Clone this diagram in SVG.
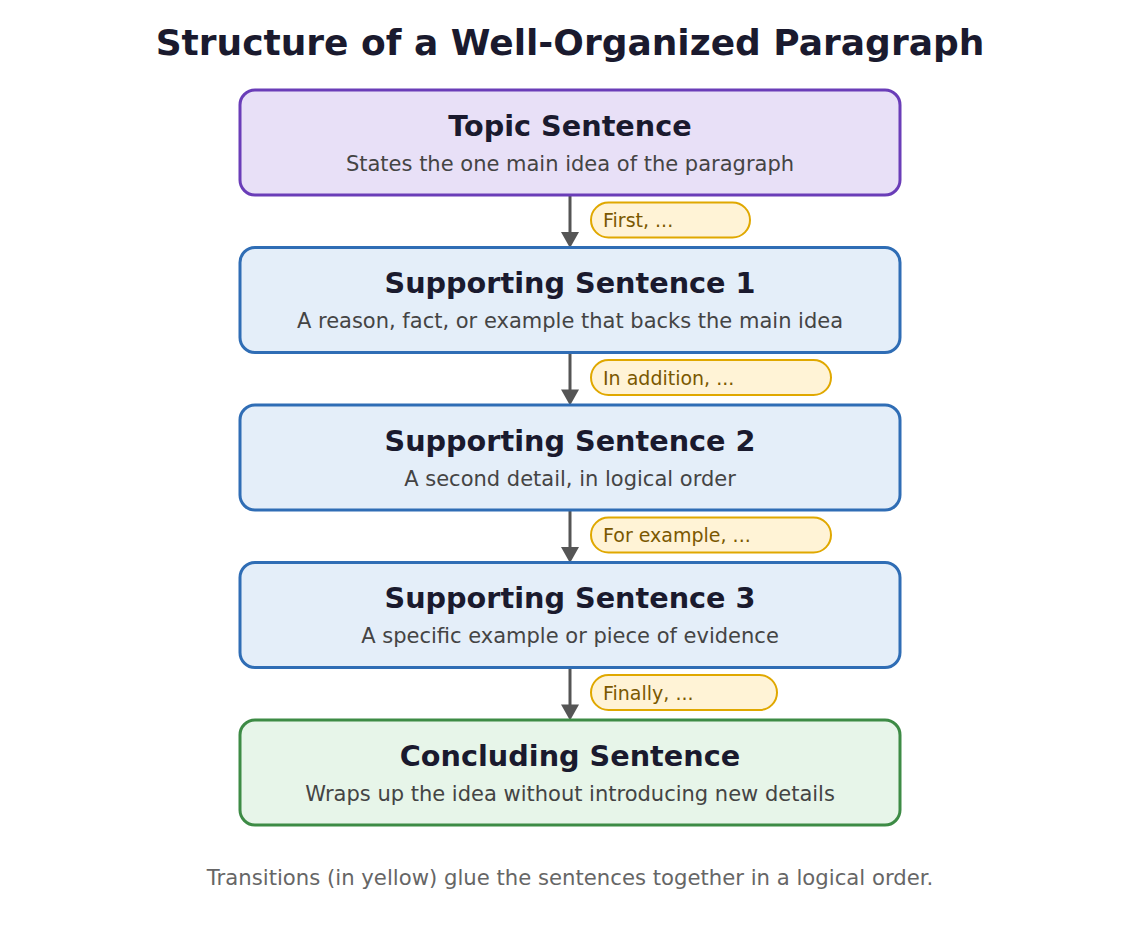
<svg xmlns="http://www.w3.org/2000/svg" width="1140" height="930" viewBox="0 0 1140 930">
<style>
text{font-family:"DejaVu Sans","Liberation Sans",sans-serif}
.title{font-size:36px;font-weight:bold;fill:#1a1a2e;text-anchor:middle}
.head{font-size:28.7px;font-weight:bold;fill:#1a1a2e;text-anchor:middle}
.sub{font-size:21px;fill:#444;text-anchor:middle}
.foot{font-size:21.2px;fill:#666;text-anchor:middle}
.box{stroke-width:3}
.topic{fill:#e8e0f7;stroke:#6a3db8}
.supp{fill:#e4eef9;stroke:#2f6db5}
.conc{fill:#e7f5e9;stroke:#3d8b45}
.pill{fill:#fff3d6;stroke:#e0a800;stroke-width:2}
.ptxt{font-size:19px;fill:#7a5800}
.conn line{stroke:#555;stroke-width:3}
.conn polygon{fill:#555}
</style>
<rect width="1140" height="930" fill="#fff"/>
<text class="title" x="570" y="55">Structure of a Well-Organized Paragraph</text>
<g id="connectors" class="conn">
<line x1="570" y1="195" x2="570" y2="234"/><polygon points="561,232 579,232 570,248"/>
<line x1="570" y1="352.5" x2="570" y2="391.5"/><polygon points="561,389.5 579,389.5 570,405.5"/>
<line x1="570" y1="510" x2="570" y2="549"/><polygon points="561,547 579,547 570,563"/>
<line x1="570" y1="667.5" x2="570" y2="706.5"/><polygon points="561,704.5 579,704.5 570,720.5"/>
</g>
<g id="node-topic">
<rect class="box topic" x="240" y="90" width="660" height="105" rx="15"/>
<text class="head" x="570" y="135.5">Topic Sentence</text>
<text class="sub" x="570" y="170.5">States the one main idea of the paragraph</text>
</g>
<g id="node-support1">
<rect class="box supp" x="240" y="247.5" width="660" height="105" rx="15"/>
<text class="head" x="570" y="293">Supporting Sentence 1</text>
<text class="sub" x="570" y="328">A reason, fact, or example that backs the main idea</text>
</g>
<g id="node-support2">
<rect class="box supp" x="240" y="405" width="660" height="105" rx="15"/>
<text class="head" x="570" y="450.5">Supporting Sentence 2</text>
<text class="sub" x="570" y="485.5">A second detail, in logical order</text>
</g>
<g id="node-support3">
<rect class="box supp" x="240" y="562.5" width="660" height="105" rx="15"/>
<text class="head" x="570" y="608">Supporting Sentence 3</text>
<text class="sub" x="570" y="643">A specific example or piece of evidence</text>
</g>
<g id="node-conclusion">
<rect class="box conc" x="240" y="720" width="660" height="105" rx="15"/>
<text class="head" x="570" y="765.5">Concluding Sentence</text>
<text class="sub" x="570" y="800.5">Wraps up the idea without introducing new details</text>
</g>
<g id="label-first">
<rect class="pill" x="591" y="202.5" width="159" height="35" rx="17.5"/>
<text class="ptxt" x="603" y="227">First, ...</text>
</g>
<g id="label-addition">
<rect class="pill" x="591" y="360" width="240" height="35" rx="17.5"/>
<text class="ptxt" x="603" y="384.5">In addition, ...</text>
</g>
<g id="label-example">
<rect class="pill" x="591" y="517.5" width="240" height="35" rx="17.5"/>
<text class="ptxt" x="603" y="542">For example, ...</text>
</g>
<g id="label-finally">
<rect class="pill" x="591" y="675" width="186" height="35" rx="17.5"/>
<text class="ptxt" x="603" y="699.5">Finally, ...</text>
</g>
<text class="foot" x="570" y="885">Transitions (in yellow) glue the sentences together in a logical order.</text>
</svg>
